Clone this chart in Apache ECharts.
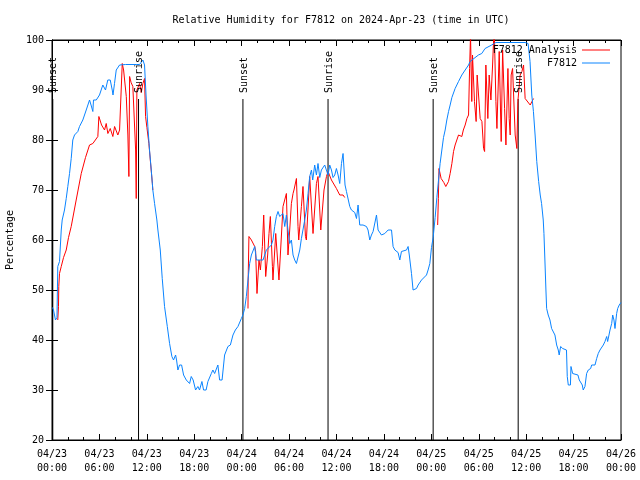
<!DOCTYPE html>
<html>
<head>
<meta charset="utf-8">
<script src="https://cdn.jsdelivr.net/npm/echarts@6/dist/echarts.min.js"></script>
<style>html,body{margin:0;padding:0;background:#fff;}#c{width:640px;height:480px;}</style>
</head>
<body>
<div id="c"></div>
<script>
// ---- data (hours since 2024-04-23 00:00 UTC) ----
const startDay = 23;
const startMonth = '04';
const xTickHours = [0, 6, 12, 18, 24, 30, 36, 42, 48, 54, 60, 66, 72];
const yTicks = [20, 30, 40, 50, 60, 70, 80, 90, 100];

const blueTime = [0.06,0.19,0.44,0.63,0.73,0.95,1.17,1.29,1.41,1.58,1.80,2.00,2.22,2.43,2.63,2.85,3.27,3.48,3.90,4.33,4.75,4.94,5.17,5.25,5.60,6.01,6.43,6.77,7.06,7.37,7.62,7.72,7.91,8.13,8.55,9.31,10.66,11.08,11.50,11.71,11.90,12.13,12.34,12.56,12.76,12.98,13.27,13.40,13.70,13.95,14.24,14.59,14.88,15.17,15.38,15.64,15.76,15.93,16.14,16.40,16.65,16.99,17.41,17.62,17.86,18.17,18.46,18.67,18.97,19.18,19.50,19.73,20.16,20.36,20.58,20.99,21.21,21.52,21.84,22.26,22.57,22.90,23.20,23.53,23.96,24.16,24.38,24.59,24.80,25.01,25.23,25.65,25.86,26.28,26.70,27.13,27.76,27.96,28.18,28.39,28.60,28.81,29.00,29.23,29.45,29.66,29.86,30.08,30.29,30.50,30.71,30.93,31.35,31.56,31.98,32.19,32.40,32.61,32.83,32.99,33.24,33.46,33.66,33.88,34.09,34.30,34.51,34.73,34.93,35.14,35.36,35.56,35.78,35.99,36.20,36.41,36.63,36.83,37.08,37.26,37.68,37.89,38.10,38.31,38.53,38.73,38.94,39.36,39.79,39.99,40.21,40.42,40.63,41.06,41.26,41.69,41.90,42.11,42.53,42.96,43.16,43.38,43.79,44.01,44.22,44.43,44.86,45.06,45.21,45.49,45.69,46.12,46.33,46.76,46.96,47.39,47.59,47.81,48.02,48.23,48.48,48.70,48.91,49.11,49.33,49.54,49.75,49.96,50.18,50.38,50.60,51.01,51.44,51.86,52.28,52.71,52.90,53.12,53.96,54.38,54.80,55.64,56.15,59.86,60.24,60.49,60.71,60.92,61.13,61.34,61.58,61.78,61.95,62.16,62.25,62.37,62.50,62.59,62.79,63.01,63.22,63.42,63.64,63.86,64.06,64.18,64.36,64.62,64.78,65.10,65.20,65.33,65.60,65.67,65.88,66.05,66.55,66.72,66.93,67.10,67.22,67.44,67.65,67.86,68.16,68.29,68.71,68.92,69.12,69.34,69.76,69.97,70.19,70.31,70.42,70.61,70.82,70.95,71.11,71.24,71.45,71.58,71.78,72.00];
const blueHumidity = [46.5,46,44,44.5,54.7,55.7,62,64,63.6,66,68.3,70.7,73.3,76.3,80,81,81.7,82.7,84,86,88,87,85.7,88,88,89,91,90,92,92,90,89,91.3,94,95,95.1,95.1,95.1,96,95,89,82.7,78,74,70,67.3,64,62,58,52.3,46.7,42.7,39.3,36.7,36,37,36,34,35,35,33,32,31.3,32.7,32,30,30.7,30,31.7,30,30,31.7,33.3,34,33.3,35,32,32,37,38.7,39,41,42,42.7,44.3,45,46.3,48.7,52,55.3,57,58.7,56,56,56,58,59,60,62.7,64.7,65.7,64.7,65,65.3,62.7,65,62,59.3,60,57,56,55.3,58,60.3,64,66,69.3,72.7,74,72,75,73,75.3,72.5,74,74,75,75.3,73,75,74,72.5,73,74.3,73,71.3,75.3,77.3,71,69.7,66.7,66,66,65.5,64.3,67,63,63,62.7,62,60,61,61.7,65,62,61,60.7,61.3,62,62,58.7,58,57.5,56,57.7,58,58,58.7,57,53.3,50,50.3,51,52,52.3,53,54,55.3,58.5,60.5,64.5,68.5,72,75.3,78,80.5,82,84,85.7,87,88.5,90.3,91.7,93,94,95,95.7,96,97,97.3,98.3,99,99.5,99.5,99.3,95.7,89,85.7,81,75.7,71.7,69,67.3,64,61.3,56,50,46.3,45,44,42.3,42,41,39,38,37,38.7,38.3,38,38,32.7,31,31,34.7,33.3,33,33,32,31.7,31,30,30.7,33.3,34,34.3,35,35,36.3,37.3,38,39,39.7,40.7,39.7,39.5,42,43.3,45,44,42.3,45.3,46.3,47,47.5];

const redTime = [0.73,0.82,0.86,0.95,1.17,1.46,1.80,2.09,2.43,3.06,3.70,4.24,4.75,5.17,5.80,5.93,6.27,6.65,6.86,7.07,7.37,7.70,7.92,8.10,8.33,8.55,8.89,9.06,9.18,9.40,9.60,9.73,9.82,10.01,10.23,10.45,10.58,10.66,10.74,11.08,11.30,11.50,11.71,11.84,12.01,12.26,12.44,12.70,12.76,
  12.80,
  24.80,24.82,24.92,25.23,25.65,25.77,25.94,26.19,26.37,26.62,26.79,27.04,27.29,27.46,27.63,27.89,27.96,28.31,28.50,28.72,29.07,29.23,29.45,29.66,29.86,30.08,30.29,30.50,30.62,30.93,31.13,31.22,31.56,31.76,32.07,32.19,32.61,33.03,33.46,33.66,34.01,34.42,34.73,34.93,35.36,35.99,36.41,36.83,37.04,
  37.10,
  48.80,48.89,48.97,49.12,49.24,49.58,49.83,49.96,50.17,50.38,50.60,50.81,51.01,51.44,51.86,52.05,52.28,52.50,52.71,52.84,52.96,53.04,53.12,53.21,53.46,53.67,53.80,54.18,54.40,54.61,54.74,54.90,55.15,55.32,55.54,55.75,55.88,55.98,56.17,56.30,56.59,56.84,57.02,57.27,57.44,57.69,57.85,57.98,58.10,58.28,58.61,58.82,58.95,59.24,59.46,59.67,59.87,60.51,60.73,60.94];
const redHumidity = [44,46.7,50.7,53.3,54.7,56.5,58,60.5,62.7,68,73.3,76.5,79,79.3,80.7,84.7,83,82,83.3,81.3,82.3,80.7,82.7,83,81,82,95.3,94,94,88.7,81,72.7,92.7,91.5,90.7,90.3,78,68.3,90,91.3,89.5,91.3,92.3,84.7,82.5,79.3,76,71.3,70,
  null,
  46.3,52,60.7,60,58.7,57.7,49.3,56,54,58.7,65,52.7,57,61.3,64.7,54.7,52,61.3,57,52,62,66.7,66.7,69.3,57,62,67.3,69.3,70,72.3,62.7,60,66.7,70.7,60.7,60,72.7,61.3,71.3,72.7,62,70,72.7,73.7,72,70.3,69,69,68.5,
  null,
  63,68.3,74.3,74,72.3,71.5,70.7,70.3,71.7,73.3,75.3,77.7,79,81,80.7,82,83,84.3,85,94.3,101,94,87.7,97,87.7,83.7,93,84.3,83.7,78.3,77.7,95,84.3,93,88,95,100,101,87.7,82.3,97.7,79.7,98,86.3,79,94.3,84.3,81,93,94.3,81,78.3,87.7,93,93.7,95,88.3,87,87.7,88.3];

const eventNames = ['Sunset', 'Sunrise', 'Sunset', 'Sunrise', 'Sunset', 'Sunrise'];
const eventHours = [0.1, 10.95, 24.16, 34.93, 48.23, 58.99];
const eventTop = 88.2;

// ---- build ----
const FONT = '"DejaVu Sans Mono", "Liberation Mono", monospace';
const pairs = (t, v) => t.map((h, i) => [h, v[i] === null ? '-' : v[i]]);
const eventData = [];
eventHours.forEach(h => { eventData.push([h, 20]); eventData.push([h, eventTop]); eventData.push([h, '-']); });

function fmtX(v) {
  const d = startDay + Math.floor(v / 24);
  const hh = Math.round(v % 24);
  return startMonth + '/' + String(d).padStart(2, '0') + '\n' + String(hh).padStart(2, '0') + ':00';
}

const chart = echarts.init(document.getElementById('c'), null, {renderer: 'canvas'});
const axisCommon = {
  axisLine: {show: true, lineStyle: {color: '#000', width: 1}},
  splitLine: {show: false},
  minorSplitLine: {show: false}
};
const txt = {fontFamily: FONT, fontSize: 10, color: '#000'};

chart.setOption({
  animation: false,
  backgroundColor: '#fff',
  title: {
    text: 'Relative Humidity for F7812 on 2024-Apr-23 (time in UTC)',
    left: 336, top: 10, textAlign: 'center',
    textStyle: Object.assign({fontWeight: 'normal'}, txt)
  },
  grid: {left: 52, right: 19, top: 40, bottom: 40, show: true, borderColor: '#000', borderWidth: 1, containLabel: false, outerBoundsMode: 'none'},
  legend: [
    {data: ['F7812 Analysis'], right: 30, top: 45, align: 'right', icon: 'rect', itemWidth: 28, itemHeight: 1, padding: 0, selectedMode: false, textStyle: txt},
    {data: ['F7812'], right: 30, top: 58, align: 'right', icon: 'rect', itemWidth: 28, itemHeight: 1, padding: 0, selectedMode: false, textStyle: txt}
  ],
  xAxis: [
    Object.assign({}, axisCommon, {
      type: 'value', min: xTickHours[0], max: xTickHours[xTickHours.length - 1], interval: 6, position: 'bottom',
      axisTick: {show: true, inside: true, length: 6, lineStyle: {color: '#000'}},
      minorTick: {show: true, splitNumber: 3, length: 3, lineStyle: {color: '#000'}},
      axisLabel: Object.assign({formatter: fmtX, margin: 7, lineHeight: 14}, txt)
    }),
    Object.assign({}, axisCommon, {
      type: 'value', min: xTickHours[0], max: xTickHours[xTickHours.length - 1], interval: 6, position: 'top',
      axisTick: {show: true, inside: true, length: 6, lineStyle: {color: '#000'}},
      minorTick: {show: true, splitNumber: 3, length: 3, lineStyle: {color: '#000'}},
      axisLabel: {show: false}
    })
  ],
  yAxis: [
    Object.assign({}, axisCommon, {
      type: 'value', min: yTicks[0], max: yTicks[yTicks.length - 1], interval: 10, position: 'left',
      name: 'Percentage', nameLocation: 'middle', nameGap: 36, nameRotate: 90,
      nameTextStyle: txt,
      axisTick: {show: true, inside: true, length: 6, lineStyle: {color: '#000'}},
      axisLabel: Object.assign({margin: 8}, txt)
    }),
    Object.assign({}, axisCommon, {
      type: 'value', min: yTicks[0], max: yTicks[yTicks.length - 1], interval: 10, position: 'right',
      axisTick: {show: true, inside: true, length: 6, lineStyle: {color: '#000'}},
      axisLabel: {show: false}
    })
  ],
  series: [
    {
      name: 'Sun events', type: 'line', data: eventData, symbol: 'none', silent: true,
      connectNulls: false, lineStyle: {color: '#000', width: 1}, itemStyle: {color: '#000'}, z: 1
    },
    {
      name: 'F7812 Analysis', type: 'line', data: pairs(redTime, redHumidity), symbol: 'none', showSymbol: false,
      connectNulls: false, color: '#ff0000', lineStyle: {color: '#ff0000', width: 1}, itemStyle: {color: '#ff0000'}, z: 2
    },
    {
      name: 'F7812', type: 'line', data: pairs(blueTime, blueHumidity), symbol: 'none', showSymbol: false,
      color: '#0a84ff', lineStyle: {color: '#0a84ff', width: 1}, itemStyle: {color: '#0a84ff'}, z: 3
    }
  ]
});

const labels = eventHours.map((h, i) => {
  const p = chart.convertToPixel({xAxisIndex: 0, yAxisIndex: 0}, [h, eventTop]);
  return {
    type: 'text', x: p[0] + 1, y: p[1] - 6, rotation: Math.PI / 2, z: 100,
    style: {text: eventNames[i], font: '10px ' + FONT, fill: '#000', align: 'left', verticalAlign: 'middle'}
  };
});
chart.setOption({graphic: labels});
</script>
</body>
</html>
